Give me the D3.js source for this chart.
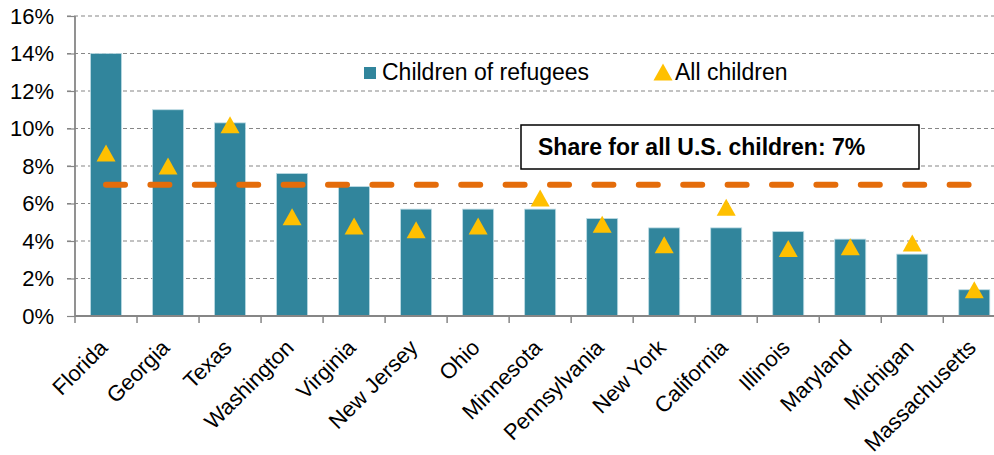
<!DOCTYPE html>
<html>
<head>
<meta charset="utf-8">
<script src="https://cdn.jsdelivr.net/npm/d3@7"></script>
<style>
  html, body { margin: 0; padding: 0; background: #fff; }
  svg { display: block; font-family: "Liberation Sans", Arial, sans-serif; }
</style>
</head>
<body>
<svg id="chart" width="994" height="455"></svg>
<script>
// States ranked by share of children with refugee parents
const states = ["Florida", "Georgia", "Texas", "Washington", "Virginia", "New Jersey", "Ohio",
  "Minnesota", "Pennsylvania", "New York", "California", "Illinois", "Maryland", "Michigan", "Massachusetts"];
const refugeeShare = [14.0, 11.0, 10.3, 7.6, 6.9, 5.7, 5.7, 5.7, 5.2, 4.7, 4.7, 4.5, 4.1, 3.3, 1.4];
const allChildrenShare = [8.7, 8.0, 10.2, 5.3, 4.8, 4.6, 4.8, 6.3, 4.9, 3.8, 5.8, 3.6, 3.7, 3.9, 1.4];
const usShare = 7;
const yTicks = [0, 2, 4, 6, 8, 10, 12, 14, 16];
const seriesNames = ["Children of refugees", "All children"];
const noteText = "Share for all U.S. children: 7%";

const teal = "#31859C", gold = "#FFC000", orange = "#E46C0A", axisGrey = "#868686";

const svg = d3.select("#chart");
const plotLeft = 75, plotTop = 16, plotBottom = 316, step = 62.02;

const x = d3.scaleBand().domain(states)
  .range([plotLeft, plotLeft + step * states.length])
  .paddingInner(0.5).paddingOuter(0.25);
const y = d3.scaleLinear().domain([0, 16]).range([plotBottom, plotTop]);

// horizontal dashed gridlines
svg.append("g").selectAll("line").data(yTicks.filter(t => t > 0)).join("line")
  .attr("x1", plotLeft - 8).attr("x2", 994)
  .attr("y1", d => y(d)).attr("y2", d => y(d))
  .attr("stroke", axisGrey).attr("stroke-width", 1.2)
  .attr("stroke-dasharray", "4 3");

// y axis with percent labels
const yAxis = d3.axisLeft(y).tickValues(yTicks).tickSize(8).tickPadding(13)
  .tickFormat(d => d + "%");
const gy = svg.append("g").attr("transform", `translate(${plotLeft},0)`).call(yAxis);
gy.select(".domain").attr("stroke", axisGrey).attr("stroke-width", 1.8)
  .attr("d", `M0,${plotTop}V${plotBottom}`);
gy.selectAll(".tick line").attr("stroke", axisGrey).attr("stroke-width", 1.2);
gy.selectAll(".tick text").attr("font-size", 22).attr("fill", "#000")
  .attr("font-family", "'Liberation Sans', Arial, sans-serif");

// bars
svg.append("g").selectAll("rect").data(states).join("rect")
  .attr("x", d => x(d)).attr("width", x.bandwidth())
  .attr("y", (d, i) => y(refugeeShare[i]))
  .attr("height", (d, i) => y(0) - y(refugeeShare[i]))
  .attr("fill", teal).attr("stroke", "#bcdbe4").attr("stroke-width", 0.8);

// x axis baseline and category boundary ticks
svg.append("line").attr("x1", plotLeft).attr("x2", 994).attr("y1", plotBottom).attr("y2", plotBottom)
  .attr("stroke", axisGrey).attr("stroke-width", 1.8);
const bounds = d3.range(states.length + 1).map(i => plotLeft + i * x.step());
svg.append("g").selectAll("line").data(bounds.filter(b => b < 994)).join("line")
  .attr("x1", d => d).attr("x2", d => d).attr("y1", plotBottom).attr("y2", plotBottom + 7)
  .attr("stroke", axisGrey).attr("stroke-width", 1.5);

// rotated category labels
svg.append("g").selectAll("text").data(states).join("text")
  .attr("transform", d => `translate(${x(d) + x.bandwidth() / 2 + 3},${plotBottom + 33}) rotate(-45)`)
  .attr("text-anchor", "end").attr("font-size", 22).attr("fill", "#000")
  .text(d => d);

// national share reference line
const cx = d => x(d) + x.bandwidth() / 2;
svg.append("line")
  .attr("x1", cx(states[0])).attr("x2", cx(states[states.length - 1]))
  .attr("y1", y(usShare)).attr("y2", y(usShare))
  .attr("stroke", orange).attr("stroke-width", 6)
  .attr("stroke-linecap", "round").attr("stroke-dasharray", "19 25.4");

// all-children markers
const tri = (w, h) => `M0,${-h / 2}L${w / 2},${h / 2}L${-w / 2},${h / 2}Z`;
svg.append("g").selectAll("path").data(states).join("path")
  .attr("d", tri(19, 17))
  .attr("transform", (d, i) => `translate(${cx(d)},${y(allChildrenShare[i])})`)
  .attr("fill", gold);

// legend
const lg = svg.append("g");
lg.append("rect").attr("x", 364).attr("y", 67).attr("width", 12).attr("height", 12).attr("fill", teal);
lg.append("text").attr("x", 382).attr("y", 80).attr("font-size", 23).text(seriesNames[0]);
lg.append("path").attr("d", tri(19, 17)).attr("transform", "translate(663,72)").attr("fill", gold);
lg.append("text").attr("x", 675).attr("y", 80).attr("font-size", 23).text(seriesNames[1]);

// annotation box
const note = svg.append("g");
note.append("rect").attr("x", 521).attr("y", 125).attr("width", 398).attr("height", 44)
  .attr("fill", "#fff").attr("stroke", "#000").attr("stroke-width", 1.5);
note.append("text").attr("x", 538).attr("y", 155).attr("font-size", 23).attr("font-weight", "bold")
  .text(noteText);
</script>
</body>
</html>
